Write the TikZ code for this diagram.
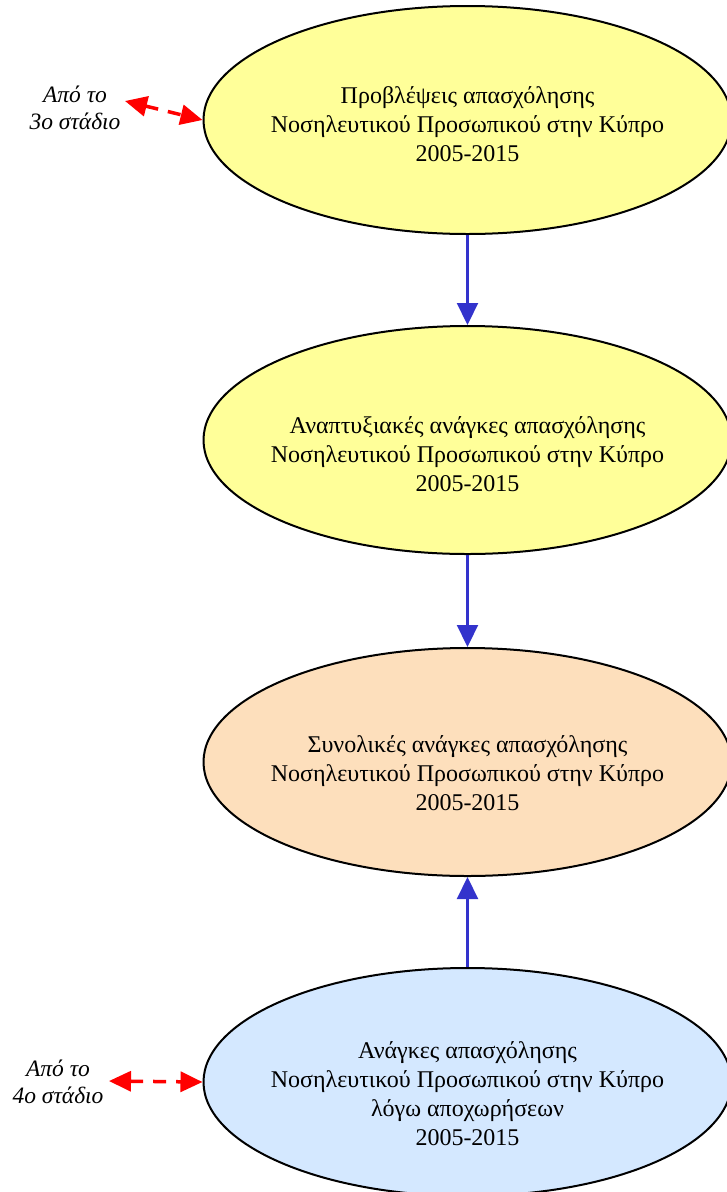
\documentclass[tikz,border=0pt]{standalone}
\usepackage{fontspec}
\setmainfont{Liberation Serif}
\usetikzlibrary{shapes.geometric,arrows.meta}
\definecolor{ylw}{RGB}{255,255,153}
\definecolor{peach}{RGB}{253,223,188}
\definecolor{lblue}{RGB}{212,232,255}
\definecolor{arrblue}{RGB}{51,51,204}
\tikzset{
  oval/.style={ellipse,draw=black,line width=2pt,minimum width=528pt,minimum height=228pt,inner sep=0pt},
  ovaltext/.style={align=center,inner sep=0pt,font=\fontsize{24}{29}\selectfont},
  flow/.style={draw=arrblue,line width=2.2pt,-{Triangle[width=21pt,length=22pt]}},
  link/.style={draw=red,line width=3.5pt,dash pattern=on 13pt off 10pt,{Triangle[width=20pt,length=22pt]}-{Triangle[width=20pt,length=22pt]}},
  stagelbl/.style={align=center,font=\itshape\fontsize{23.5}{27}\selectfont,inner sep=0pt}
}
\begin{document}
\begin{tikzpicture}[x=1pt,y=-1pt]
\useasboundingbox (0,0) rectangle (727,1192);
\node[oval,fill=ylw] (e1) at (467.5,120) {};
\node[oval,fill=ylw] (e2) at (467.5,440) {};
\node[oval,fill=peach] (e3) at (467.5,762) {};
\node[oval,fill=lblue] (e4) at (467.5,1082) {};
\node[ovaltext] (t1) at (467.5,124.5) {Προβλέψεις απασχόλησης\\Νοσηλευτικού Προσωπικού στην Κύπρο\\2005-2015};
\node[ovaltext] (t2) at (467.5,454) {Αναπτυξιακές ανάγκες απασχόλησης\\Νοσηλευτικού Προσωπικού στην Κύπρο\\2005-2015};
\node[ovaltext] (t3) at (467.5,773.5) {Συνολικές ανάγκες απασχόλησης\\Νοσηλευτικού Προσωπικού στην Κύπρο\\2005-2015};
\node[ovaltext] (t4) at (467.5,1094) {Ανάγκες απασχόλησης\\Νοσηλευτικού Προσωπικού στην Κύπρο\\λόγω αποχωρήσεων\\2005-2015};
\draw[flow] (e1.south) -- (e2.north);
\draw[flow] (e2.south) -- (e3.north);
\draw[flow] (e4.north) -- (e3.south);
\node[stagelbl] (s3) at (75,108) {Από το\\3ο στάδιο};
\node[stagelbl] (s4) at (58,1082) {Από το\\4ο στάδιο};
\coordinate (s3end) at (125,101);
\coordinate (s4end) at (109,1081);
\draw[link] (s3end) -- (e1.west);
\draw[link] (s4end) -- (e4.west);
\end{tikzpicture}
\end{document}
